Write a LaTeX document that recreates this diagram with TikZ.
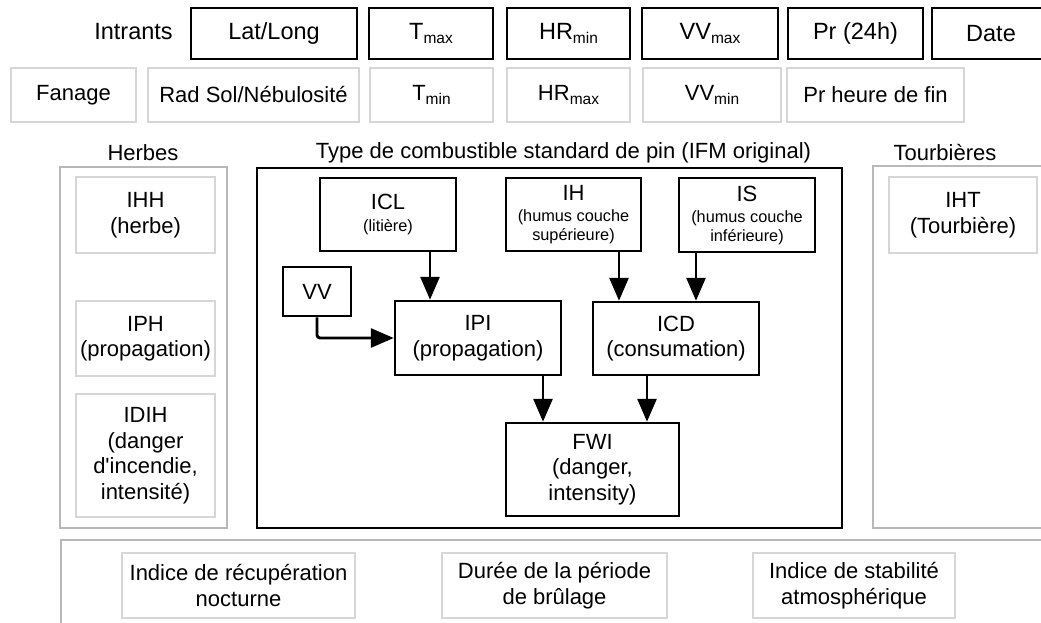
\documentclass[tikz,border=0pt]{standalone}
\usepackage{fontspec}
\setmainfont{Liberation Sans}
\usetikzlibrary{arrows.meta}
% text sizes
\newcommand\lbl{\fontsize{22}{25.5}\selectfont}
\newcommand\biglbl{\fontsize{23.5}{26}\selectfont}
\newcommand\smalllbl{\fontsize{16.3}{19}\selectfont}
\newcommand\subx[1]{\raisebox{-4pt}{\fontsize{15.5}{15.5}\selectfont #1}}

\begin{document}
\begin{tikzpicture}[x=1pt,y=-1pt,
  sz/.style 2 args={minimum width=#1pt,minimum height=#2pt},
  blackbox/.style={draw=black,line width=2.5pt,inner sep=0pt,align=center,font=\lbl},
  greybox/.style={draw=black!16,line width=2.4pt,inner sep=0pt,align=center,font=\lbl},
  panel/.style={draw=black!28,line width=2.2pt},
  caption/.style={inner sep=0pt,font=\lbl},
  arr/.style={line width=2.9pt,-{Triangle[length=23pt,width=19pt]}}]

\useasboundingbox (0,0) rectangle (1041,622);
\clip (0,0) rectangle (1041,622);

% ---- inputs, first row ----
\node[caption,font=\biglbl] (intr) at (133.5,32) {Intrants};
\node[blackbox,font=\biglbl,sz={166}{51}] (latlong) at (274,33.5) {Lat/Long};
\node[blackbox,font=\biglbl,sz={124}{51}] (tmax) at (431,33.5) {T\subx{max}};
\node[blackbox,font=\biglbl,sz={123}{51}] (hrmin) at (568.5,33.5) {HR\subx{min}};
\node[blackbox,font=\biglbl,sz={136}{51}] (vvmax) at (710,33.5) {VV\subx{max}};
\node[blackbox,font=\biglbl,sz={135}{51}] (pr24) at (855.5,33.5) {Pr (24h)};
\node[blackbox,font=\biglbl,sz={118}{51}] (date) at (991,33.5) {Date};

% ---- inputs, second row ----
\node[greybox,sz={125}{54}] (fanage) at (73.5,95) {Fanage};
\node[greybox,sz={211}{54}] (radsol) at (253.5,95) {Rad Sol/Nébulosité};
\node[greybox,sz={123}{54}] (tmin) at (431.5,95) {T\subx{min}};
\node[greybox,sz={123}{54}] (hrmax) at (568.5,95) {HR\subx{max}};
\node[greybox,sz={138}{54}] (vvmin) at (712,95) {VV\subx{min}};
\node[greybox,sz={177}{54}] (prfin) at (875.5,95) {Pr heure de fin};

% ---- grass panel ----
\draw[panel] (60,167) rectangle (227,528);
\node[caption] (herbes) at (143,153) {Herbes};
\node[greybox,sz={139}{76}] (ihh) at (145.5,215) {IHH\\(herbe)};
\node[greybox,sz={139}{75}] (iph) at (145.5,338.5) {IPH\\(propagation)};
\node[greybox,sz={139}{123}] (idih) at (145.5,455.5) {IDIH\\(danger\\d\textquotesingle incendie,\\intensité)};

% ---- standard pine fuel panel ----
\draw[draw=black,line width=2.5pt] (257,168) rectangle (842,528);
\node[caption] (pin) at (563.5,153) {Type de combustible standard de pin (IFM original)};
\node[blackbox,sz={136}{73}] (icl) at (388,214.5) {ICL\\[-3pt]{\smalllbl(litière)}};
\node[blackbox,sz={68}{49}] (vv) at (317,291.5) {VV};
\node[blackbox,sz={135}{73}] (ih) at (573.5,214.5) {IH\\[-4pt]{\smalllbl(humus couche}\\[-7pt]{\smalllbl supérieure)}};
\node[blackbox,sz={136}{74}] (is) at (747,215) {IS\\[-4pt]{\smalllbl(humus couche}\\[-7pt]{\smalllbl inférieure)}};
\node[blackbox,sz={166}{74}] (ipi) at (478,338) {IPI\\(propagation)};
\node[blackbox,sz={166}{73}] (icd) at (676,338.5) {ICD\\(consumation)};
\node[blackbox,sz={173}{93}] (fwi) at (592.5,469.5) {FWI\\(danger,\\intensity)};

\draw[arr] ([xshift=42pt]icl.south) -- ([xshift=42pt]icl.south |- ipi.north);
\draw[arr] ([xshift=45.5pt]ih.south) -- ([xshift=45.5pt]ih.south |- icd.north);
\draw[arr] ([xshift=-51pt]is.south) -- ([xshift=-51pt]is.south |- icd.north);
\draw[arr,rounded corners=3pt] (vv.south) |- (ipi.west);
\draw[arr] ([xshift=65pt]ipi.south) -- ([xshift=65pt]ipi.south |- fwi.north);
\draw[arr] ([xshift=-29pt]icd.south) -- ([xshift=-29pt]icd.south |- fwi.north);

% ---- peatland panel ----
\draw[panel] (873,166) rectangle (1060,528);
\node[caption] (tourb) at (945,153) {Tourbières};
\node[greybox,sz={148}{76}] (iht) at (963,215) {IHT\\(Tourbière)};

% ---- bottom panel ----
\draw[panel] (61,540) rectangle (1060,640);
\node[greybox,sz={233}{65}] (recup) at (238.5,585.5) {Indice de récupération\\nocturne};
\node[greybox,sz={225}{65}] (duree) at (554.5,585.5) {Durée de la période\\de brûlage};
\node[greybox,sz={202}{65}] (stab) at (854,585.5) {Indice de stabilité\\atmosphérique};
\end{tikzpicture}
\end{document}
